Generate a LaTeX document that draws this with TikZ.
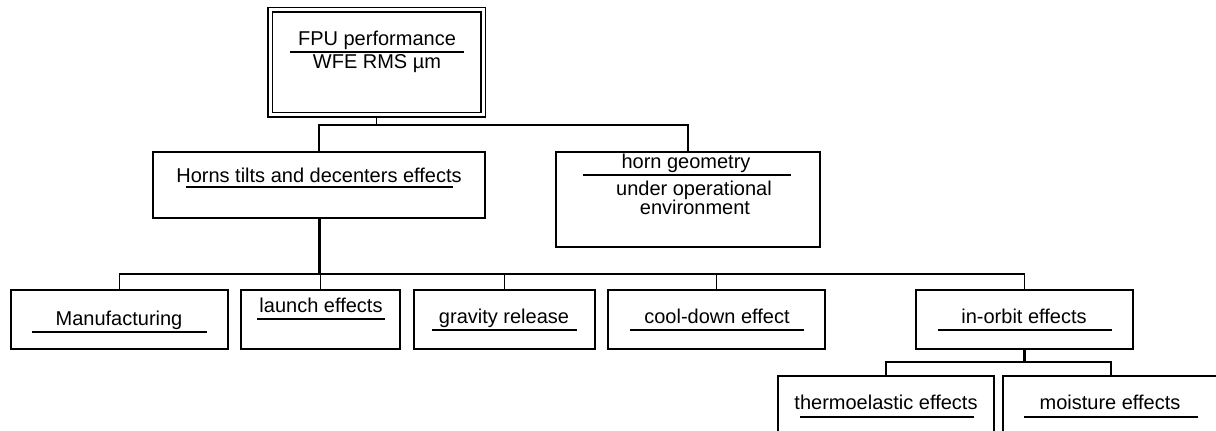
\documentclass[tikz,border=0pt]{standalone}
\usepackage{fontspec}
\setmainfont{Liberation Sans}
\newcommand\bx[6][box]{\node[#1, minimum width={(#5-#3)*0.5pt}, minimum height={(#6-#4)*0.5pt}] (#2) at ({(#3+#5)/2},{(#4+#6)/2}) {};}
\tikzset{
  box/.style={draw, line width=0.9pt, inner sep=0pt, outer sep=0pt, fill=white},
  dbox/.style={draw, line width=0.65pt, double, double distance=1.5pt, inner sep=0pt, outer sep=1.4pt, fill=white},
  txt/.style={inner sep=0pt, font=\fontsize{10}{12}\selectfont, anchor=base},
  uline/.style={line width=0.65pt},
  conn/.style={line width=0.8pt},
  thick conn/.style={line width=1.5pt}
}
\begin{document}
\begin{tikzpicture}[x=0.5pt,y=-0.5pt]
\useasboundingbox (0,0) rectangle (1216,431);
\clip (0,0) rectangle (1216,431);
% boxes
\bx[dbox]{top}{270}{10}{483}{115}
\bx{horns}{153}{152}{485}{218}
\bx{geom}{556}{152}{820}{247}
\bx{manuf}{11}{290}{228}{349}
\bx{launch}{241}{290}{400}{349}
\bx{grav}{414}{290}{595}{349}
\bx{cool}{608}{290}{825}{349}
\bx{orbit}{916}{290}{1133}{349}
\bx{thermo}{778}{376}{994}{450}
\bx{moist}{1003}{376}{1219}{450}
% bus coordinates
\coordinate (bus1) at (0,125);
\coordinate (bus2) at (0,274);
\coordinate (bus3) at (0,362);
% connectors
\draw[conn] (top.south) -- (top.south |- bus1);
\draw[conn] (horns.north) |- (bus1 -| geom.north) -- (geom.north);
\draw[thick conn] (horns.south) -- (horns.south |- bus2);
\draw[conn] (manuf.north) |- (bus2 -| orbit.north) -- (orbit.north);
\draw[conn] (launch.north) -- (launch.north |- bus2);
\draw[conn] (grav.north) -- (grav.north |- bus2);
\draw[conn] (cool.north) -- (cool.north |- bus2);
\draw[thick conn] (orbit.south) -- (orbit.south |- bus3);
\draw[conn] (thermo.north) |- (bus3 -| moist.north) -- (moist.north);
% texts
\node[txt] (t1) at (377,46) {FPU performance};
\node[txt] (t2) at (377,69) {WFE RMS µm};
\node[txt] (t3) at (319,183) {Horns tilts and decenters effects};
\node[txt] (t4) at (686,169) {horn geometry};
\node[txt] (t5) at (694,196) {under operational};
\node[txt] (t6) at (695,215) {environment};
\node[txt] (t7) at (119,326) {Manufacturing};
\node[txt] (t8) at (321,313) {launch effects};
\node[txt] (t9) at (504,324) {gravity release};
\node[txt] (t10) at (717,324) {cool-down effect};
\node[txt] (t11) at (1024,324) {in-orbit effects};
\node[txt] (t12) at (886,410) {thermoelastic effects};
\node[txt] (t13) at (1110,410) {moisture effects};
% underlines
\draw[uline] (290,52) -- (464,52);
\draw[uline] (186,187) -- (453,187);
\draw[uline] (583,175) -- (791,175);
\draw[uline] (32,332) -- (207,332);
\draw[uline] (257,319) -- (385,319);
\draw[uline] (432,330) -- (577,330);
\draw[uline] (630,330) -- (804,330);
\draw[uline] (938,330) -- (1112,330);
\draw[uline] (800,417) -- (974,417);
\draw[uline] (1024,417) -- (1198,417);
\end{tikzpicture}
\end{document}
